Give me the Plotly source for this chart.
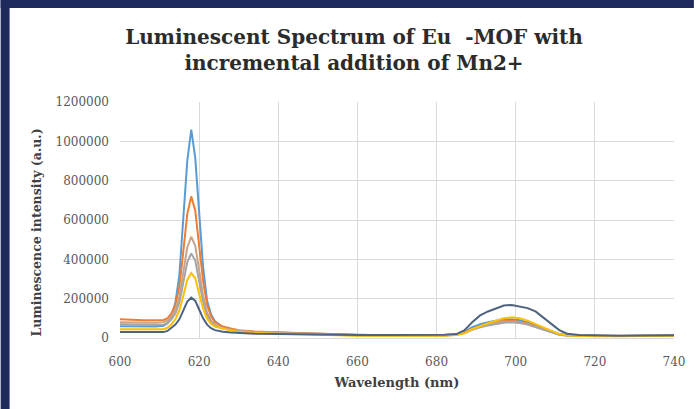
import plotly.graph_objects as go

wavelength = [600, 603, 606, 609, 611, 612, 613, 614, 615, 616, 617, 618, 619, 620, 621, 622, 623, 624,
              626, 628, 630, 634, 640, 646, 652, 660, 668, 676, 682, 685,
              687, 689, 691, 693, 695, 697, 699, 701, 703, 705, 707, 709, 711, 713,
              716, 720, 726, 732, 740]

s1 = [60e3, 60e3, 58e3, 58e3, 62e3, 75e3, 110e3, 180e3, 320e3, 600e3, 900e3, 1060e3, 920e3, 640e3, 360e3, 190e3, 120e3, 85e3,
      55e3, 42e3, 36e3, 30e3, 27e3, 24e3, 18e3, 14e3, 13e3, 14e3, 14e3, 18e3,
      30e3, 55e3, 70e3, 80e3, 88e3, 95e3, 95e3, 90e3, 80e3, 65e3, 48e3, 32e3, 20e3, 14e3,
      12e3, 11e3, 10e3, 11e3, 12e3]
s2 = [95e3, 92e3, 90e3, 90e3, 92e3, 100e3, 125e3, 170e3, 260e3, 440e3, 630e3, 720e3, 650e3, 470e3, 290e3, 170e3, 110e3, 80e3,
      58e3, 48e3, 40e3, 33e3, 28e3, 24e3, 19e3, 15e3, 14e3, 14e3, 15e3, 18e3,
      28e3, 48e3, 62e3, 72e3, 80e3, 86e3, 87e3, 83e3, 74e3, 60e3, 45e3, 30e3, 19e3, 14e3,
      12e3, 11e3, 11e3, 12e3, 13e3]
s3 = [80e3, 78e3, 77e3, 77e3, 80e3, 88e3, 108e3, 145e3, 210e3, 330e3, 460e3, 515e3, 470e3, 345e3, 215e3, 130e3, 88e3, 66e3,
      50e3, 42e3, 36e3, 30e3, 26e3, 22e3, 18e3, 14e3, 13e3, 13e3, 14e3, 17e3,
      26e3, 45e3, 58e3, 68e3, 76e3, 82e3, 83e3, 79e3, 70e3, 57e3, 43e3, 29e3, 18e3, 13e3,
      11e3, 10e3, 10e3, 11e3, 12e3]
s4 = [70e3, 68e3, 66e3, 66e3, 68e3, 75e3, 95e3, 125e3, 180e3, 280e3, 385e3, 430e3, 395e3, 290e3, 185e3, 115e3, 80e3, 62e3,
      48e3, 40e3, 34e3, 28e3, 24e3, 20e3, 16e3, 13e3, 12e3, 12e3, 13e3, 16e3,
      24e3, 42e3, 55e3, 64e3, 72e3, 78e3, 80e3, 76e3, 68e3, 55e3, 41e3, 28e3, 17e3, 12e3,
      10e3, 10e3, 10e3, 10e3, 11e3]
s5 = [45e3, 44e3, 43e3, 43e3, 45e3, 52e3, 70e3, 95e3, 140e3, 215e3, 295e3, 330e3, 305e3, 225e3, 150e3, 98e3, 72e3, 58e3,
      46e3, 38e3, 32e3, 26e3, 22e3, 18e3, 15e3, 12e3, 11e3, 11e3, 12e3, 15e3,
      24e3, 45e3, 62e3, 75e3, 88e3, 100e3, 105e3, 100e3, 88e3, 70e3, 52e3, 34e3, 20e3, 13e3,
      10e3, 9e3, 9e3, 10e3, 11e3]
s6 = [30e3, 29e3, 28e3, 28e3, 30e3, 36e3, 50e3, 68e3, 95e3, 140e3, 185e3, 205e3, 190e3, 145e3, 100e3, 68e3, 50e3, 40e3,
      32e3, 28e3, 25e3, 22e3, 20e3, 18e3, 16e3, 15e3, 15e3, 15e3, 16e3, 20e3,
      38e3, 80e3, 115e3, 135e3, 150e3, 165e3, 168e3, 160e3, 152e3, 135e3, 105e3, 72e3, 40e3, 22e3,
      15e3, 13e3, 12e3, 13e3, 14e3]

series = [s1, s2, s3, s4, s5, s6]
colors = ["#5B9BD5", "#ED7D31", "#C9A48A", "#A5A5A5", "#FFC000", "#4E6380"]

x_ticks = [600, 620, 640, 660, 680, 700, 720, 740]
y_ticks = [0, 200000, 400000, 600000, 800000, 1000000, 1200000]

fig = go.Figure()
for vals, col in zip(series, colors):
    fig.add_trace(go.Scatter(x=wavelength, y=vals, mode="lines",
                             line=dict(color=col, width=2), showlegend=False))

serif = "DejaVu Serif"
L, R, T, B = 120, 20, 102, 71
W, H = 697, 409
pw, ph = W - L - R, H - T - B

def px_x(p):
    return (p - L) / pw

def px_y(p):
    return (H - B - p) / ph

fig.update_layout(
    width=W, height=H,
    margin=dict(l=L, r=R, t=T, b=B),
    paper_bgcolor="white", plot_bgcolor="white",
    title=dict(text="<b>Luminescent Spectrum of Eu\u00a0\u00a0-MOF with<br>incremental addition of Mn2+</b>",
               font=dict(family=serif, size=20, color="#2b2b2b"),
               x=354 / W, xanchor="center", xref="container",
               y=1 - 44 / H, yanchor="middle", yref="container"),
    xaxis=dict(range=[600, 740], tickvals=x_ticks, showgrid=True, gridcolor="#D9D9D9", gridwidth=1,
               zeroline=False, showline=False, ticks="",
               tickfont=dict(family=serif, size=12, color="#595959"), ticklabelstandoff=15,
               title=dict(text="<b>Wavelength (nm)</b>", font=dict(family=serif, size=13, color="#404040"),
                          standoff=9)),
    yaxis=dict(range=[0, 1200000], tickvals=y_ticks, tickformat="d", showgrid=True, gridcolor="#D9D9D9",
               gridwidth=1, zeroline=True, zerolinecolor="#D9D9D9", zerolinewidth=1, showline=False, ticks="",
               tickfont=dict(family=serif, size=12, color="#595959"), ticklabelstandoff=10),
    annotations=[
        dict(text="<b>Luminescence intensity (a.u.)</b>", textangle=-90, showarrow=False,
             xref="paper", yref="paper", x=px_x(36), y=px_y(232), xanchor="center", yanchor="middle",
             font=dict(family=serif, size=12.5, color="#404040")),
    ],
    shapes=[
        dict(type="rect", xref="paper", yref="paper", x0=px_x(0), x1=px_x(W), y0=px_y(8), y1=px_y(0),
             fillcolor="#1F2A5C", line=dict(width=0), layer="above"),
        dict(type="rect", xref="paper", yref="paper", x0=px_x(0), x1=px_x(9), y0=px_y(H), y1=px_y(0),
             fillcolor="#1F2A5C", line=dict(width=0), layer="above"),
    ],
)

fig.write_html("out.html")
